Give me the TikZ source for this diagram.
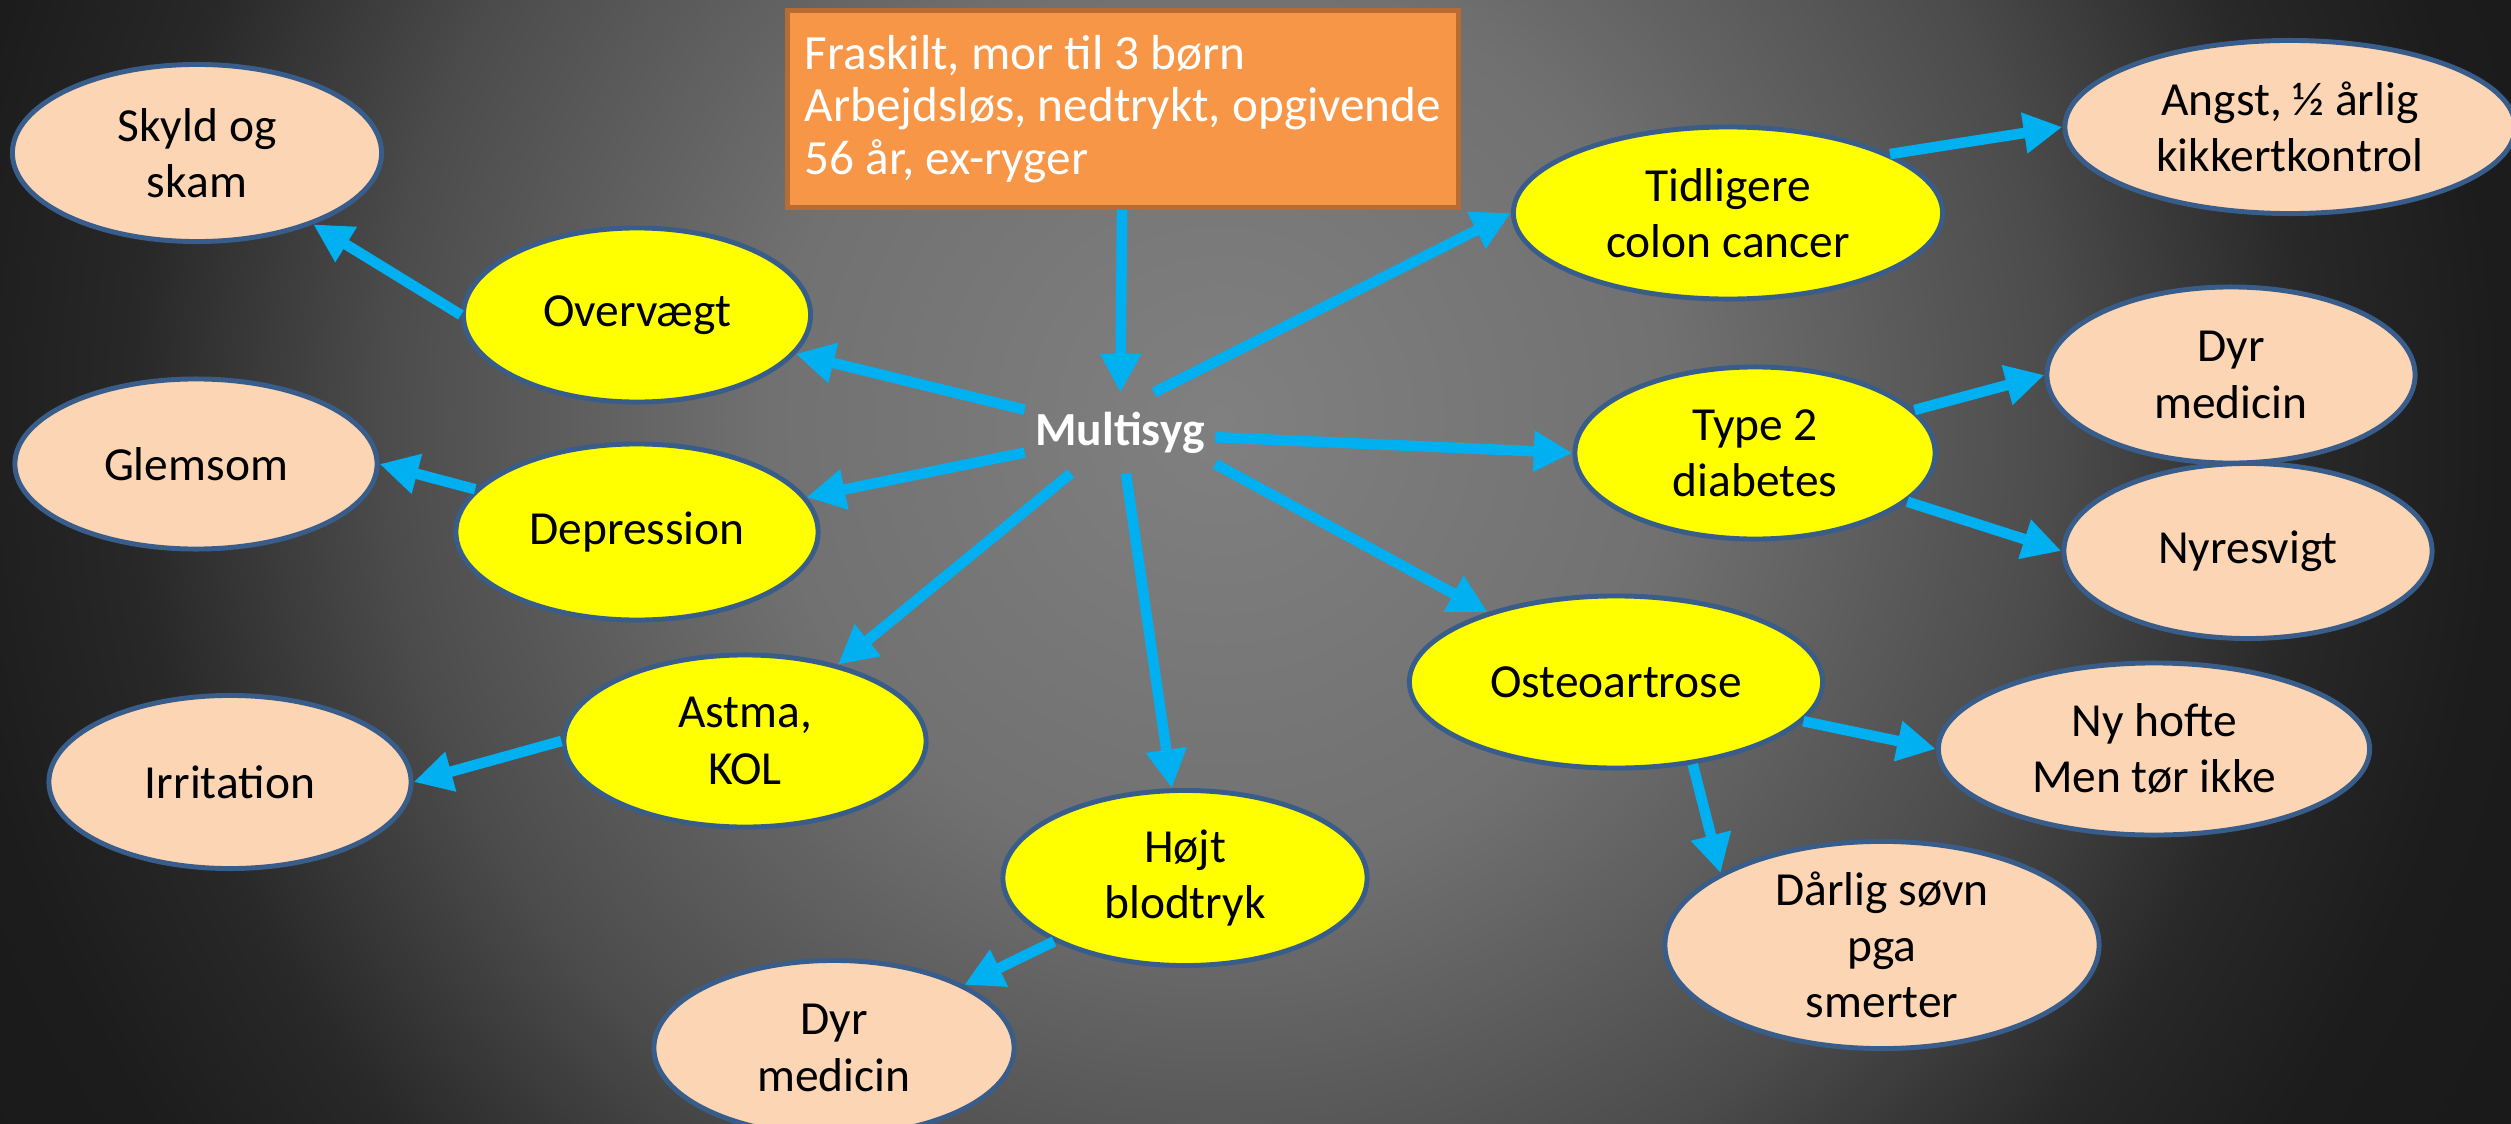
\documentclass[tikz,border=0pt]{standalone}
\usepackage{fontspec}
\setmainfont{Carlito}
\usetikzlibrary{arrows.meta,shapes.geometric}
\definecolor{Xcyan}{RGB}{0,176,240}
\definecolor{Xyellow}{RGB}{255,255,0}
\definecolor{Xpeach}{RGB}{252,213,181}
\definecolor{Xrim}{RGB}{56,93,138}
\definecolor{Xorange}{RGB}{247,150,70}
\definecolor{Xorangerim}{RGB}{182,108,50}
\definecolor{Bga}{RGB}{128,128,128}
\definecolor{Bgb}{RGB}{113,113,113}
\definecolor{Bgc}{RGB}{76,76,76}
\definecolor{Bgd}{RGB}{40,40,40}
\definecolor{Bge}{RGB}{28,28,28}
\definecolor{Bgf}{RGB}{24,24,24}
\pgfdeclareradialshading{bgglow}{\pgfpoint{0bp}{0bp}}{color(0bp)=(Bga); color(7bp)=(Bgb); color(13bp)=(Bgc); color(17bp)=(Bgd); color(20bp)=(Bge); color(25bp)=(Bgf); color(50bp)=(Bgf)}
\tikzset{
  flow/.style={-{Triangle[length=11pt,width=11pt]}, line width=3pt, draw=Xcyan},
  bubble/.style={ellipse, draw=Xrim, line width=1.4pt, align=center, inner sep=0pt, font=\fontsize{13.5}{16}\selectfont},
  yellowbubble/.style={bubble, fill=Xyellow},
  peachbubble/.style={bubble, fill=Xpeach},
  infobox/.style={rectangle, draw=Xorangerim, line width=1.4pt, fill=Xorange, text=white, align=left, font=\fontsize{14}{15}\selectfont},
  hub/.style={text=white, inner xsep=0.1cm, inner ysep=0.19cm, font=\fontsize{13.5}{16}\selectfont\bfseries}
}

\begin{document}
\begin{tikzpicture}[x=0.01cm, y=-0.01cm]
  % background
  \begin{scope}
    \clip (0,0) rectangle (2511,1124);
    \shade[shading=bgglow] (1220,420) circle[radius=16cm];
  \end{scope}
  \useasboundingbox (0,0) rectangle (2511,1124);

  \node[infobox, minimum width=6.71cm, minimum height=1.96cm] (info) at (1123,109)
    {Fraskilt, mor til 3 børn\\Arbejdsløs, nedtrykt, opgivende\\56 år, ex-ryger};
  \node[hub] (hub) at (1120,433) {Multisyg};

  \node[yellowbubble, minimum width=3.47cm, minimum height=1.74cm] (ov) at (637,315) {Overvægt};
  \node[yellowbubble, minimum width=3.62cm, minimum height=1.76cm] (dep) at (637,532) {Depression};
  \node[yellowbubble, minimum width=3.62cm, minimum height=1.72cm] (ast) at (745,741) {Astma,\\KOL};
  \node[yellowbubble, minimum width=3.64cm, minimum height=1.75cm] (hb) at (1185,878) {Højt\\blodtryk};
  \node[yellowbubble, minimum width=4.29cm, minimum height=1.72cm] (tid) at (1728,213) {Tidligere\\colon cancer};
  \node[yellowbubble, minimum width=3.60cm, minimum height=1.72cm] (t2) at (1755,453) {Type 2\\diabetes};
  \node[yellowbubble, minimum width=4.13cm, minimum height=1.72cm] (ost) at (1616,682) {Osteoartrose};

  \node[peachbubble, minimum width=3.69cm, minimum height=1.77cm] (skyld) at (197,153) {Skyld og\\skam};
  \node[peachbubble, minimum width=3.62cm, minimum height=1.70cm] (glem) at (196,464) {Glemsom};
  \node[peachbubble, minimum width=3.62cm, minimum height=1.73cm] (irr) at (230,782) {Irritation};
  \node[peachbubble, minimum width=3.60cm, minimum height=1.75cm] (dyr1) at (834,1048) {Dyr\\medicin};
  \node[peachbubble, minimum width=4.50cm, minimum height=1.73cm] (angst) at (2290,127) {Angst, ½ årlig\\kikkertkontrol};
  \node[peachbubble, minimum width=3.68cm, minimum height=1.76cm] (dyr2) at (2231,375) {Dyr\\medicin};
  \node[peachbubble, minimum width=3.68cm, minimum height=1.75cm] (nyr) at (2248,551) {Nyresvigt};
  \node[peachbubble, minimum width=4.31cm, minimum height=1.72cm] (hofte) at (2154,749) {Ny hofte\\Men tør ikke};
  \node[peachbubble, minimum width=4.34cm, minimum height=2.00cm] (sovn) at (1882,945) {Dårlig søvn\\pga\\smerter};

  \draw[flow] (info) -- (hub);
  \draw[flow] (hub) -- (ov);
  \draw[flow] (hub) -- (dep);
  \draw[flow] (hub) -- (ast);
  \draw[flow] (hub) -- (hb);
  \draw[flow] (hub.50) -- (tid.west);
  \draw[flow] (hub) -- (t2.west);
  \draw[flow] (hub.-18) -- (ost);
  \draw[flow] (ov.west) -- (skyld);
  \draw[flow] (dep) -- (glem.east);
  \draw[flow] (ast.west) -- (irr.east);
  \draw[flow] (hb) -- (dyr1);
  \draw[flow] (tid.20) -- (angst.west);
  \draw[flow] (t2) -- (dyr2.west);
  \draw[flow] (t2) -- (nyr.west);
  \draw[flow] (ost) -- (hofte.west);
  \draw[flow] (ost.-47) -- (sovn.156);
\end{tikzpicture}
\end{document}
